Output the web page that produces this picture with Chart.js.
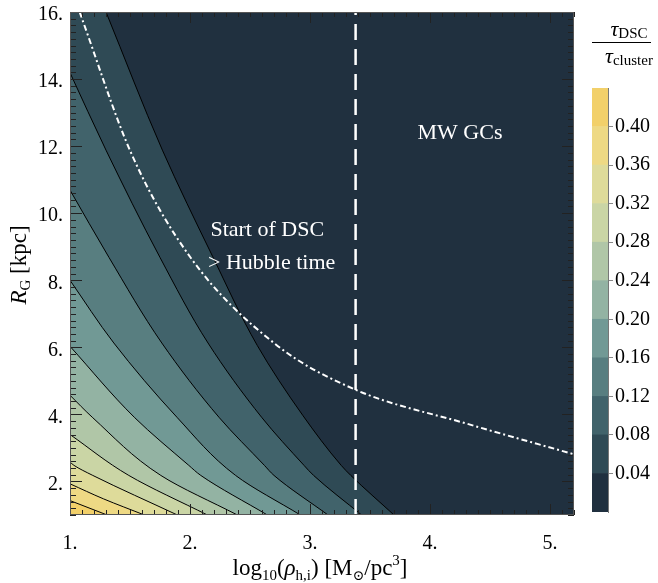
<!DOCTYPE html>
<html>
<head>
<meta charset="utf-8">
<script src="https://cdn.jsdelivr.net/npm/chart.js@4.4.0/dist/chart.umd.min.js"></script>
<style>
  body { margin: 0; background: #fff; }
  #wrap { position: relative; width: 658px; height: 583px; }
  #main { position: absolute; left: 0; top: 0; }
  #bar { position: absolute; left: 560px; top: 0; }
</style>
</head>
<body>
<div id="wrap">
  <canvas id="main" width="580" height="583"></canvas>
  <canvas id="bar" width="98" height="583"></canvas>
</div>
<script>
// contour levels of tau_DSC / tau_cluster and the fill colour of each band
var levels = [0.04, 0.08, 0.12, 0.16, 0.20, 0.24, 0.28, 0.32, 0.36, 0.40];
var bandColors = ["#20303f", "#2f4a55", "#41636b", "#587e80", "#719995", "#93b3a3",
                  "#b0c6a7", "#cad5a5", "#dedb9a", "#eed984", "#f2d06a"];

// contour lines: [log10 rho, R_G]
var c004 = [[1.30, 16.0], [1.77, 11.88], [2.19, 8.7], [2.56, 6.06], [2.94, 3.97], [3.26, 2.48], [3.34, 2.18], [3.70, 1.0]];
var c008 = [[1.0, 14.19], [1.30, 11.88], [1.75, 8.68], [2.15, 6.13], [2.60, 3.9], [2.95, 2.48], [3.03, 2.18], [3.43, 1.0]];
var c012 = [[1.0, 10.69], [1.325, 8.68], [1.765, 6.13], [2.245, 3.9], [2.62, 2.48], [2.70, 2.18], [3.15, 1.0]];
var c016 = [[1.0, 8.0], [1.365, 6.13], [1.895, 3.9], [2.38, 2.18], [2.92, 1.0]];
var c020 = [[1.0, 6.03], [1.54, 3.9], [1.99, 2.48], [2.09, 2.18], [2.645, 1.0]];
var c024 = [[1.0, 4.57], [1.19, 3.9], [1.757, 2.18], [2.395, 1.0]];
var c028 = [[1.0, 3.40], [1.49, 2.18], [2.145, 1.0]];
var c032 = [[1.0, 2.58], [1.033, 2.48], [1.19, 2.18], [1.895, 1.0]];
var c036 = [[1.0, 1.93], [1.28, 1.48], [1.62, 1.0]];
var c040 = [[1.0, 1.43], [1.31, 1.0]];
var contours = [c004, c008, c012, c016, c020, c024, c028, c032, c036, c040];

// Hubble-time boundary (dash-dot) and MW GC limit (dashed)
var hubbleLine = [[1.08, 16.0], [1.51, 11.79], [2.0, 8.7], [2.71, 6.1], [3.37, 4.75], [4.31, 3.72], [5.2, 2.81]];
var mwLimit = [[3.38, 1.0], [3.38, 16.0]];

var xTicks = [1, 2, 3, 4, 5];
var yTicks = [2, 4, 6, 8, 10, 12, 14, 16];

var labels = [
    { text: "Start of DSC", x: 2.17, y: 9.31, align: "left" },
    { text: "> Hubble time", x: 2.15, y: 8.33, align: "left" },
    { text: "MW GCs", x: 4.25, y: 12.21, align: "center" }
];

var serif = '"Liberation Serif", "DejaVu Serif", serif';

function toXY(arr) {
    return arr.map(p => ({ x: p[0], y: p[1] }));
}

// draw a row of text pieces with sub/superscripts
function drawRuns(ctx, runs, x, y, align) {
    var total = 0;
    runs.forEach(r => {
        ctx.font = (r.i ? "italic " : "") + r.s + "px " + serif;
        r.w = ctx.measureText(r.t).width;
        total += r.w;
    });
    var cx = align == "center" ? x - total / 2 : x;
    runs.forEach(r => {
        ctx.font = (r.i ? "italic " : "") + r.s + "px " + serif;
        ctx.textAlign = "left";
        ctx.textBaseline = "alphabetic";
        ctx.fillText(r.t, cx, y + (r.dy || 0));
        cx += r.w;
    });
}

var datasets = [];
datasets.push({
    data: toXY(mwLimit), borderColor: "#fff", borderWidth: 2.5, borderDash: [16, 9],
    pointRadius: 0, fill: false, tension: 0, order: 0
});
datasets.push({
    data: toXY(hubbleLine), borderColor: "#fff", borderWidth: 2, borderDash: [6, 3, 2, 3],
    pointRadius: 0, fill: false, cubicInterpolationMode: "monotone", order: 0
});
// each contour fills everything to its left (the higher values)
for (let i = 0; i < contours.length; i++) {
    datasets.push({
        label: levels[i].toFixed(2),
        indexAxis: "y",
        data: toXY(contours[i]),
        borderColor: "#000",
        borderWidth: 1,
        backgroundColor: bandColors[i + 1],
        pointRadius: 0,
        fill: { value: 1 },
        cubicInterpolationMode: "monotone",
        order: 20 - i
    });
}

var plotExtras = {
    id: "plotExtras",
    beforeDatasetsDraw(chart) {
        var a = chart.chartArea, ctx = chart.ctx;
        ctx.save();
        ctx.fillStyle = bandColors[0];
        ctx.fillRect(a.left, a.top, a.right - a.left, a.bottom - a.top);
        ctx.restore();
    },
    afterDraw(chart) {
        var ctx = chart.ctx, a = chart.chartArea;
        var xs = chart.scales.x, ys = chart.scales.y;
        ctx.save();
        // annotations
        ctx.fillStyle = "#fff";
        labels.forEach(l => {
            drawRuns(ctx, [{ t: l.text, s: 22 }], xs.getPixelForValue(l.x), ys.getPixelForValue(l.y), l.align);
        });
        // inward ticks on all four sides
        ctx.strokeStyle = "#222";
        ctx.lineWidth = 1;
        ctx.beginPath();
        for (let i = 0; i <= 42; i++) {
            let v = 1 + i * 0.1;
            let px = Math.round(xs.getPixelForValue(v)) + 0.5;
            let len = Math.abs(v - Math.round(v)) < 1e-6 ? 11 : 5;
            ctx.moveTo(px, a.bottom); ctx.lineTo(px, a.bottom - len);
            ctx.moveTo(px, a.top); ctx.lineTo(px, a.top + len);
        }
        for (let i = 0; i <= 75; i++) {
            let v = 1 + i * 0.2;
            let py = Math.round(ys.getPixelForValue(v)) + 0.5;
            let r = Math.round(v);
            let len = (Math.abs(v - r) < 1e-6 && r % 2 == 0) ? 12 : 6;
            ctx.moveTo(a.left, py); ctx.lineTo(a.left + len, py);
            ctx.moveTo(a.right, py); ctx.lineTo(a.right - len, py);
        }
        ctx.stroke();
        ctx.strokeStyle = "#555";
        ctx.strokeRect(a.left + 0.5, a.top + 0.5, a.right - a.left - 1, a.bottom - a.top - 1);
        // axis titles
        ctx.fillStyle = "#000";
        drawRuns(ctx, [
            { t: "log", s: 23 }, { t: "10", s: 15, dy: 5 }, { t: "(", s: 23 }, { t: "\u03c1", s: 23, i: true },
            { t: "h,i", s: 15, dy: 5 }, { t: ") [M", s: 23 }, { t: "\u2299", s: 14, dy: 5 },
            { t: "/pc", s: 23 }, { t: "3", s: 15, dy: -10 }, { t: "]", s: 23 }
        ], 320, 575, "center");
        ctx.translate(26, 265);
        ctx.rotate(-Math.PI / 2);
        drawRuns(ctx, [{ t: "R", s: 23, i: true }, { t: "G", s: 15, dy: 4 }, { t: " [kpc]", s: 23 }], 0, 0, "center");
        ctx.restore();
    }
};

new Chart(document.getElementById("main"), {
    type: "line",
    data: { datasets: datasets },
    options: {
        responsive: false,
        animation: false,
        events: [],
        layout: { autoPadding: false, padding: { top: 12, right: 6, left: 0, bottom: 0 } },
        plugins: { legend: { display: false }, tooltip: { enabled: false } },
        scales: {
            x: {
                type: "linear", min: 1, max: 5.2,
                grid: { display: false, drawTicks: false },
                border: { display: false },
                afterFit: s => { s.height = 68; s.paddingLeft = 0; s.paddingRight = 0; },
                afterBuildTicks: s => { s.ticks = xTicks.map(v => ({ value: v })); },
                ticks: {
                    autoSkip: false, maxRotation: 0, padding: 17, color: "#000",
                    font: { family: serif, size: 20 },
                    callback: v => v + "."
                }
            },
            y: {
                type: "linear", min: 1, max: 16,
                grid: { display: false, drawTicks: false },
                border: { display: false },
                afterFit: s => { s.width = 70; s.paddingTop = 0; s.paddingBottom = 0; },
                afterBuildTicks: s => { s.ticks = yTicks.map(v => ({ value: v })); },
                ticks: {
                    autoSkip: false, padding: 7, labelOffset: 3, color: "#000",
                    font: { family: serif, size: 20 },
                    callback: v => v + "."
                }
            }
        }
    },
    plugins: [plotExtras]
});

// colour bar
var barTitle = {
    id: "barTitle",
    afterDraw(chart) {
        var ctx = chart.ctx;
        ctx.save();
        ctx.fillStyle = "#000";
        drawRuns(ctx, [{ t: "\u03c4", s: 22, i: true }, { t: "DSC", s: 15, dy: 2 }], 69, 36, "center");
        drawRuns(ctx, [{ t: "\u03c4", s: 22, i: true }, { t: "cluster", s: 15, dy: 2 }], 69, 63, "center");
        ctx.strokeStyle = "#000";
        ctx.lineWidth = 1;
        ctx.beginPath();
        ctx.moveTo(32, 42.5); ctx.lineTo(91, 42.5);
        ctx.stroke();
        ctx.restore();
    }
};

new Chart(document.getElementById("bar"), {
    type: "bar",
    data: {
        labels: [""],
        datasets: bandColors.map(c => ({ data: [0.04], backgroundColor: c, borderWidth: 0 }))
    },
    options: {
        responsive: false,
        animation: false,
        events: [],
        layout: { autoPadding: false, padding: { top: 88, left: 32, right: 0, bottom: 71 } },
        plugins: { legend: { display: false }, tooltip: { enabled: false } },
        datasets: { bar: { barPercentage: 1, categoryPercentage: 1 } },
        scales: {
            x: { display: false, stacked: true },
            y: {
                stacked: true, position: "right", min: 0, max: 0.44,
                afterFit: s => { s.width = 50; },
                afterBuildTicks: s => { s.ticks = levels.map(v => ({ value: v })); },
                grid: { drawOnChartArea: false, drawTicks: true, tickLength: 5, color: "#888" },
                border: { display: true, color: "#777" },
                ticks: {
                    padding: 2, color: "#000", autoSkip: false,
                    font: { family: serif, size: 20 },
                    callback: v => v.toFixed(2)
                }
            }
        }
    },
    plugins: [barTitle]
});
</script>
</body>
</html>
